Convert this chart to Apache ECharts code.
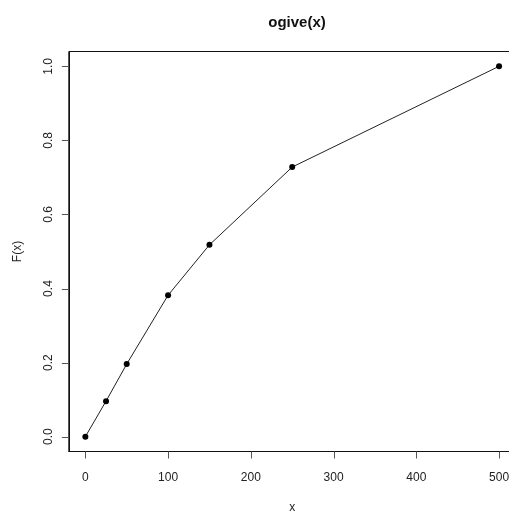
<!DOCTYPE html>
<html>
<head>
<meta charset="utf-8">
<script src="https://cdn.jsdelivr.net/npm/echarts@6/dist/echarts.min.js"></script>
<style>
  html, body { margin: 0; padding: 0; background: #fff; }
  #chart { width: 509px; height: 511px; }
</style>
</head>
<body>
<div id="chart"></div>
<script>
// ogive data: class boundaries and cumulative relative frequency
const xBreaks = [0, 25, 50, 100, 150, 250, 500];
const cumFreq = [0, 0.096, 0.196, 0.382, 0.518, 0.728, 1.0];
const xTicks = [0, 100, 200, 300, 400, 500];
const yTicks = [0, 0.2, 0.4, 0.6, 0.8, 1.0];

const chart = echarts.init(document.getElementById("chart"));
const font = "Liberation Sans, Arial, sans-serif";
const txt = "#222";
const tickLen = 7;

// R-style outward ticks, placed through the axis scales
const tickSeries = (vals, isX) => ({
  type: "custom",
  silent: true,
  clip: false,
  z: 5,
  data: vals.map((v) => (isX ? [v, 0] : [0, v])),
  renderItem: (params, api) => {
    const cs = params.coordSys;
    const p = api.coord([api.value(0), api.value(1)]);
    if (isX) {
      const x = Math.round(p[0]) + 0.5;
      const y = cs.y + cs.height;
      return { type: "line", shape: { x1: x, y1: y, x2: x, y2: y + tickLen }, style: { stroke: "#555", lineWidth: 1 } };
    }
    const y = Math.round(p[1]) + 0.5;
    const x = cs.x;
    return { type: "line", shape: { x1: x - tickLen, y1: y, x2: x, y2: y }, style: { stroke: "#555", lineWidth: 1 } };
  },
});

chart.setOption({
  animation: false,
  title: {
    text: "ogive(x)",
    left: 292,
    top: 10,
    textAlign: "center",
    textStyle: { fontFamily: font, fontSize: 15, fontWeight: "bold", color: "#111" },
  },
  grid: {
    left: 68.8,
    top: 51.5,
    right: -6.6,
    bottom: 59.5,
    containLabel: false,
    outerBoundsMode: "none",
    show: true,
    borderColor: "#111",
    borderWidth: 1,
    backgroundColor: "transparent",
  },
  xAxis: {
    type: "value",
    min: -20, // R's 4% range padding
    max: 520,
    interval: 20,
    name: "x",
    nameLocation: "middle",
    nameGap: 50,
    nameTextStyle: { fontFamily: font, fontSize: 12, color: txt },
    axisLine: { show: true, onZero: false, lineStyle: { color: "#111", width: 1 } },
    splitLine: { show: false },
    axisTick: { show: false },
    axisLabel: {
      customValues: xTicks,
      margin: 20,
      fontFamily: font,
      fontSize: 12,
      color: txt,
    },
  },
  yAxis: {
    type: "value",
    min: -0.04,
    max: 1.04,
    interval: 0.04,
    name: "F(x)",
    nameLocation: "middle",
    nameRotate: 90,
    nameGap: 45,
    nameTextStyle: { fontFamily: font, fontSize: 12, color: txt },
    axisLine: { show: true, onZero: false, lineStyle: { color: "#111", width: 1 } },
    splitLine: { show: false },
    axisTick: { show: false },
    axisLabel: {
      customValues: yTicks,
      rotate: 90,
      margin: 14,
      fontFamily: font,
      fontSize: 12,
      color: txt,
      formatter: (v) => v.toFixed(1),
    },
  },
  series: [
    {
      type: "line",
      data: xBreaks.map((x, i) => [x, cumFreq[i]]),
      symbol: "circle",
      symbolSize: 6,
      showAllSymbol: true,
      lineStyle: { color: "#222", width: 1 },
      itemStyle: { color: "#000" },
    },
    tickSeries(xTicks, true),
    tickSeries(yTicks, false),
  ],
});
</script>
</body>
</html>
